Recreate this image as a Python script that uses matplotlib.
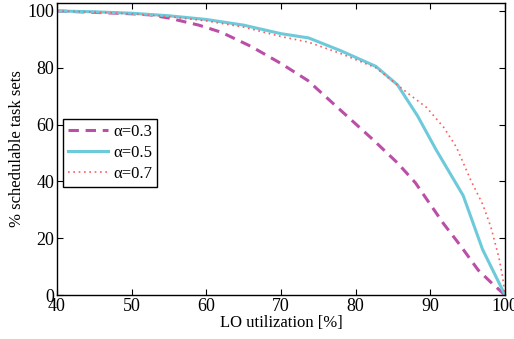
import matplotlib
matplotlib.use("Agg")
import matplotlib.pyplot as plt

plt.rcParams['font.family'] = ['Liberation Serif', 'DejaVu Serif']

x03 = [40, 45, 50, 52.5, 55, 59, 62, 66, 70, 73.6, 78, 82.4, 85.6, 88, 91.8, 94, 96.4, 98.3, 100]
y03 = [100, 99.5, 99, 98.6, 97.5, 95, 92.5, 87.5, 81.5, 75.5, 65, 54.5, 46.5, 39.5, 25, 17.5, 8.8, 4, 0]

x05 = [40, 45, 50, 55, 60, 65, 70, 73.7, 78, 82.7, 85.6, 88.3, 90.8, 92.6, 94.4, 97, 100]
y05 = [100, 99.7, 99.2, 98.3, 97, 95, 92, 90.5, 86, 80.5, 74, 63, 51, 43, 35, 16, 0]

x07 = [40, 45, 50, 55, 60, 65, 70, 73.7, 78, 82.7, 87, 89.5, 91.8, 93.5, 95.4, 97, 98.1, 99.2, 99.7, 100]
y07 = [100, 99.6, 99, 98, 96.5, 94.3, 91, 89, 85, 80, 71, 66, 59, 52, 40.5, 32, 24, 13, 6, 0]

labels = ['α=0.3', 'α=0.5', 'α=0.7']
xticks = [40, 50, 60, 70, 80, 90, 100]
yticks = [0, 20, 40, 60, 80, 100]

fig = plt.figure(figsize=(5.14, 3.39), dpi=100)
ax = fig.add_axes([57/514, 44/339, 448/514, 292/339])

ax.plot(x03, y03, color='#bb4fa8', lw=2.2, ls=(0, (3.4, 2.2)), label=labels[0])
ax.plot(x05, y05, color='#6dcadb', lw=2.2, ls='-', label=labels[1])
ax.plot(x07, y07, color='#ff5c5c', lw=1.2, ls=(0, (1, 2.2)), label=labels[2])

ax.set_xlim(40, 100)
ax.set_ylim(0, 102.8)
ax.set_xticks(xticks)
ax.set_yticks(yticks)
ax.tick_params(direction='in', top=True, right=True, labelsize=13, length=4, width=0.8, pad=2)
for s in ax.spines.values():
    s.set_linewidth(1.0)
ax.set_xlabel('LO utilization [%]', fontsize=12, labelpad=0)
ax.set_ylabel('% schedulable task sets', fontsize=12, labelpad=2)

leg = ax.legend(loc='lower left', bbox_to_anchor=(0.014, 0.37), fontsize=12,
                frameon=True, fancybox=False, edgecolor='black', framealpha=1,
                handlelength=2.4, handletextpad=0.3, borderpad=0.3, labelspacing=0.3,
                borderaxespad=0)
leg.get_frame().set_linewidth(1.0)

fig.savefig('out.png', dpi=100)
